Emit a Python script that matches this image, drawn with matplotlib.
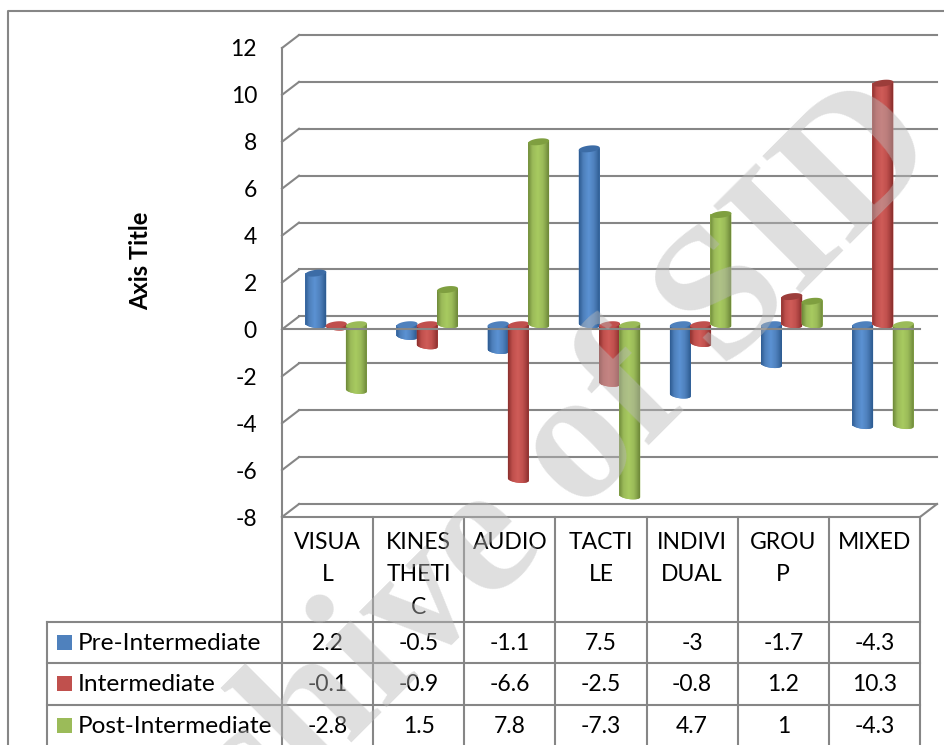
import numpy as np
import matplotlib
matplotlib.use('Agg')
import matplotlib.pyplot as plt
from matplotlib.path import Path
from matplotlib.patches import PathPatch
from matplotlib.colors import LinearSegmentedColormap

plt.rcParams['font.family'] = ['Lato', 'DejaVu Sans']

categories = ['VISUA\nL', 'KINES\nTHETI\nC', 'AUDIO', 'TACTI\nLE', 'INDIVI\nDUAL', 'GROU\nP', 'MIXED']
series_names = ['Pre-Intermediate', 'Intermediate', 'Post-Intermediate']
pre_intermediate = [2.2, -0.5, -1.1, 7.5, -3, -1.7, -4.3]
intermediate = [-0.1, -0.9, -6.6, -2.5, -0.8, 1.2, 10.3]
post_intermediate = [-2.8, 1.5, 7.8, -7.3, 4.7, 1, -4.3]
y_ticks = [12, 10, 8, 6, 4, 2, 0, -2, -4, -6, -8]

series = [pre_intermediate, intermediate, post_intermediate]
# edge, body, highlight, top cap
shades = [('#2e5c92', '#4f81bd', '#5b92d3', '#3c6ca6'),
          ('#8c302e', '#c0504d', '#cf5c58', '#9c3d3a'),
          ('#6f8a3a', '#9bbb59', '#a8cb60', '#7f9f40')]
grid_col = '#868686'

W, H = 945, 745
DX = 17 / (638 / 7)      # depth of the 3d box in data units
DY = 13 / 23.45
BAR_W = 0.23
BAR_STEP = 0.2225
BAR_DX = DX / 2
BAR_DY = 0.2
CAP_H = 0.14
CAP_TILT = 0.05

fig = plt.figure(figsize=(W / 100, H / 100), dpi=100, facecolor='white')
ax = fig.add_axes([282 / W, 1 - 517 / H, 638 / W, 469 / H])
ax.patch.set_visible(False)


def cyl_outline(x, y0, y1):
    # body of a cylinder between y0 (top) and y1 (bottom), bottom end rounded
    t = np.linspace(np.pi, 2 * np.pi, 30)
    xs = x + BAR_W / 2 * np.cos(t)
    ys = y1 + CAP_H * np.sin(t) - CAP_TILT * np.cos(t)
    xs = np.r_[x - BAR_W / 2, xs, x + BAR_W / 2]
    ys = np.r_[y0 - CAP_TILT, ys, y0 + CAP_TILT]
    return Path(np.column_stack([xs, ys]))


def cap(x, y):
    t = np.linspace(0, 2 * np.pi, 50)
    return Path(np.column_stack([x + BAR_W / 2 * np.cos(t),
                                 y + CAP_H * np.sin(t) + CAP_TILT * np.cos(t)]))


# back wall and side wall
for v in y_ticks:
    ax.plot([DX, 7 + DX], [v + DY, v + DY], color=grid_col, lw=1.5, clip_on=False, zorder=1)
    ax.plot([0, DX], [v, v + DY], color=grid_col, lw=1.5, clip_on=False, zorder=1)
ax.plot([7, 7 + DX], [-8, -8 + DY], color=grid_col, lw=1.5, clip_on=False, zorder=1)

# cylinders, later series in front of earlier ones
z = 2
for j, vals in enumerate(series):
    edge, body, high, top = shades[j]
    cmap = LinearSegmentedColormap.from_list('c', [edge, body, high, body, edge], 64)
    grad = np.linspace(0, 1, 64).reshape(1, -1) ** 0.9
    for i, v in enumerate(vals):
        x = i + 0.5 + (j - 1) * BAR_STEP + BAR_DX
        bar = ax.bar(x, v, BAR_W, bottom=BAR_DY, color=body, linewidth=0, zorder=z)[0]
        bar.set_clip_on(False)
        y0 = max(v, 0) + BAR_DY
        y1 = min(v, 0) + BAR_DY
        outline = PathPatch(cyl_outline(x, y0, y1), fc=body, ec='none', zorder=z, transform=ax.transData)
        ax.add_patch(outline)
        outline.set_clip_on(False)
        im = ax.imshow(grad, cmap=cmap, aspect='auto', zorder=z + 0.1,
                       extent=[x - BAR_W / 2, x + BAR_W / 2, y1 - 0.3, y0 + 0.3])
        im.set_clip_path(outline)
        c = PathPatch(cap(x, y0), fc=top if v > 0 else body, ec='none', zorder=z + 0.2)
        ax.add_patch(c)
        c.set_clip_on(False)
        z += 1

ax.set_xlim(0, 7)
ax.set_ylim(-8, 12)
ax.set_xticks([])
ax.set_yticks(y_ticks)
ax.set_yticklabels([str(v) for v in y_ticks], fontsize=16.5, va='center_baseline')
ax.tick_params(axis='y', length=0, pad=18)
for s in ['top', 'right']:
    ax.spines[s].set_visible(False)
for s in ['left', 'bottom']:
    ax.spines[s].set_color(grid_col)
    ax.spines[s].set_linewidth(1.5)
ax.set_ylabel('Axis Title', fontsize=17, fontweight='bold')
ax.yaxis.set_label_coords((152 - 282) / 638, (517 - 261) / 469)
# front edge of the zero plane runs over the bars
ax.plot([0, 7], [0, 0], color=grid_col, lw=1.5, zorder=z + 5, clip_on=False)

# frame, data table and watermark in pixel coordinates
ov = fig.add_axes([0, 0, 1, 1], zorder=5)
ov.set_xlim(0, W)
ov.set_ylim(H, 0)
ov.axis('off')

line = dict(color=grid_col, lw=1.5)
ov.plot([8, 8, W], [H, 11, 11], **line)
col_x = [282 + i * 638 / 7 for i in range(8)]
for cx in col_x:
    ov.plot([cx, cx], [517, H], **line)
ov.plot([47, 47], [622, H], **line)
row_y = [622, 663, 705]
for ry in row_y:
    ov.plot([47, col_x[-1]], [ry, ry], **line)

for i, name in enumerate(categories):
    ov.text((col_x[i] + col_x[i + 1]) / 2, 532, name, ha='center', va='top', fontsize=16.5,
            linespacing=1.67, color='black')
for j, vals in enumerate(series):
    yc = row_y[j] + 20.5
    ov.fill([57, 72, 72, 57], [yc - 7.5, yc - 7.5, yc + 7.5, yc + 7.5], color=shades[j][1], lw=0)
    ov.text(78, yc + 1, series_names[j], ha='left', va='center', fontsize=17.6, color='black')
    for i, v in enumerate(vals):
        ov.text((col_x[i] + col_x[i + 1]) / 2, yc + 1, str(v), ha='center', va='center',
                fontsize=16.5, color='black')

ov.text(490, 540, 'Archive of SID', family='Liberation Serif', fontweight='bold', fontsize=135,
        rotation=45, rotation_mode='anchor', ha='center', va='center', color='#b8b8b8', alpha=0.45,
        clip_on=True, zorder=20)

fig.savefig('out.png', dpi=100)
